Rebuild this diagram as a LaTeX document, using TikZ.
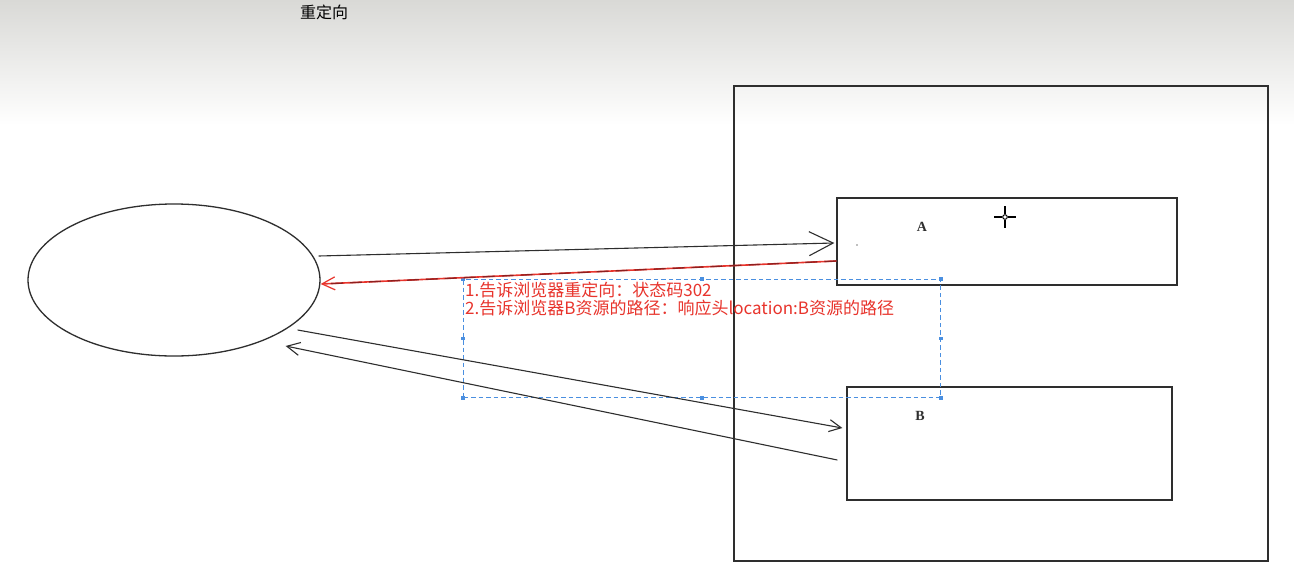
\documentclass[tikz,border=0pt]{standalone}
\usepackage{fontspec}
\newfontfamily\cjk{Noto Sans CJK SC}
\newfontfamily\serifA{Liberation Serif}
\usetikzlibrary{shapes.geometric,arrows.meta,calc}
\definecolor{ink}{HTML}{2E2E2E}
\definecolor{redtxt}{HTML}{E8342C}
\definecolor{darkred}{HTML}{8E1F1F}
\definecolor{selblue}{HTML}{4A8FE0}
\definecolor{topgray}{HTML}{D9D9D6}
\tikzset{
  boxstyle/.style={draw=ink, line width=1.3pt, rectangle, inner sep=0pt},
  conn/.style={draw=ink, line width=1.1pt},
  openhead/.style={-{Straight Barb[length=#1, width=#1, line width=1.1pt]}},
  lbl/.style={font=\serifA\fontsize{14}{16}\selectfont\bfseries, text=ink},
  handle/.style={fill=selblue, draw=none, minimum size=3.5pt, inner sep=0pt, rectangle}
}
\begin{document}
\begin{tikzpicture}[x=1pt,y=-1pt]
\useasboundingbox (0,0) rectangle (1294,579);
\fill[white] (0,0) rectangle (1294,579);
\shade[top color=topgray, bottom color=white] (0,0) rectangle (1294,125);
% title
\node[font=\cjk\fontsize{16}{18}\selectfont, text=black, inner sep=0pt] (title) at (324,12) {重定向};
% client ellipse
\node[ellipse, draw=ink, line width=1.3pt, minimum width=292pt, minimum height=152pt, inner sep=0pt] (client) at (174,280) {};
% server outer box
\node[boxstyle, minimum width=534pt, minimum height=475pt] (server) at (1001,323.5) {};
% resource A
\node[boxstyle, minimum width=340pt, minimum height=87pt] (A) at (1007,241.5) {};
\node[lbl] (Alabel) at (922,227) {A};
% resource B
\node[boxstyle, minimum width=325pt, minimum height=113pt] (B) at (1009.5,443.5) {};
\node[lbl] (Blabel) at (920,416) {B};
% crosshair cursor
\coordinate (cur) at (1005,217);
\draw[black, line width=1.6pt] ($(cur)+(-11,0)$) -- ($(cur)+(-3,0)$);
\draw[black, line width=1.6pt] ($(cur)+(3,0)$) -- ($(cur)+(11,0)$);
\draw[black, line width=1.6pt] ($(cur)+(0,-11)$) -- ($(cur)+(0,-3)$);
\draw[black, line width=1.6pt] ($(cur)+(0,3)$) -- ($(cur)+(0,11)$);
\draw[black, line width=1pt] (cur) circle (2.3pt);
% small dot
\fill[gray] (857,245) circle (0.9pt);
% selection box
\node[draw=selblue, dash pattern=on 4.5pt off 3pt, line width=1.1pt, minimum width=477pt, minimum height=118pt, anchor=north west, inner sep=0pt] (sel) at (463,279) {};
\foreach \a in {north west,north,north east,west,east,south west,south,south east}
  \node[handle] at (sel.\a) {};
% request 1
\coordinate (r1s) at ($(client.east)+(-2,-24)$);
\coordinate (r1e) at ($(A.west)+(-2,1.5)$);
\draw[conn, openhead=24pt] (r1s) -- (r1e);
% response 302 (red)
\coordinate (r2s) at ($(A.west)+(0,19.5)$);
\coordinate (r2e) at ($(client.east)+(0,4)$);
\draw[draw=redtxt, line width=1.6pt, -{Straight Barb[length=13pt, width=13pt, line width=1.2pt]}] (r2s) -- (r2e);
\draw[draw=darkred, line width=1.3pt, dash pattern=on 12pt off 7pt] (r2s) -- ($(r2e)+(10,-0.4)$);
% note text
\node[anchor=north west, align=left, inner sep=0pt, text=redtxt, font=\cjk\fontsize{17}{18}\selectfont] (note) at ($(sel.north west)+(2,2.5)$) {1.告诉浏览器重定向：状态码302\\2.告诉浏览器B资源的路径：响应头location:B资源的路径};
% request 2
\coordinate (r3s) at ($(client.east)+(-23,50)$);
\coordinate (r3e) at ($(B.west)+(-4,-15.5)$);
\draw[conn, openhead=12pt] (r3s) -- (r3e);
% response from B
\coordinate (r4s) at ($(B.west)+(-9,16.5)$);
\coordinate (r4e) at ($(client.east)+(-35,66)$);
\draw[conn, openhead=13pt] (r4s) -- (r4e);
\end{tikzpicture}
\end{document}
